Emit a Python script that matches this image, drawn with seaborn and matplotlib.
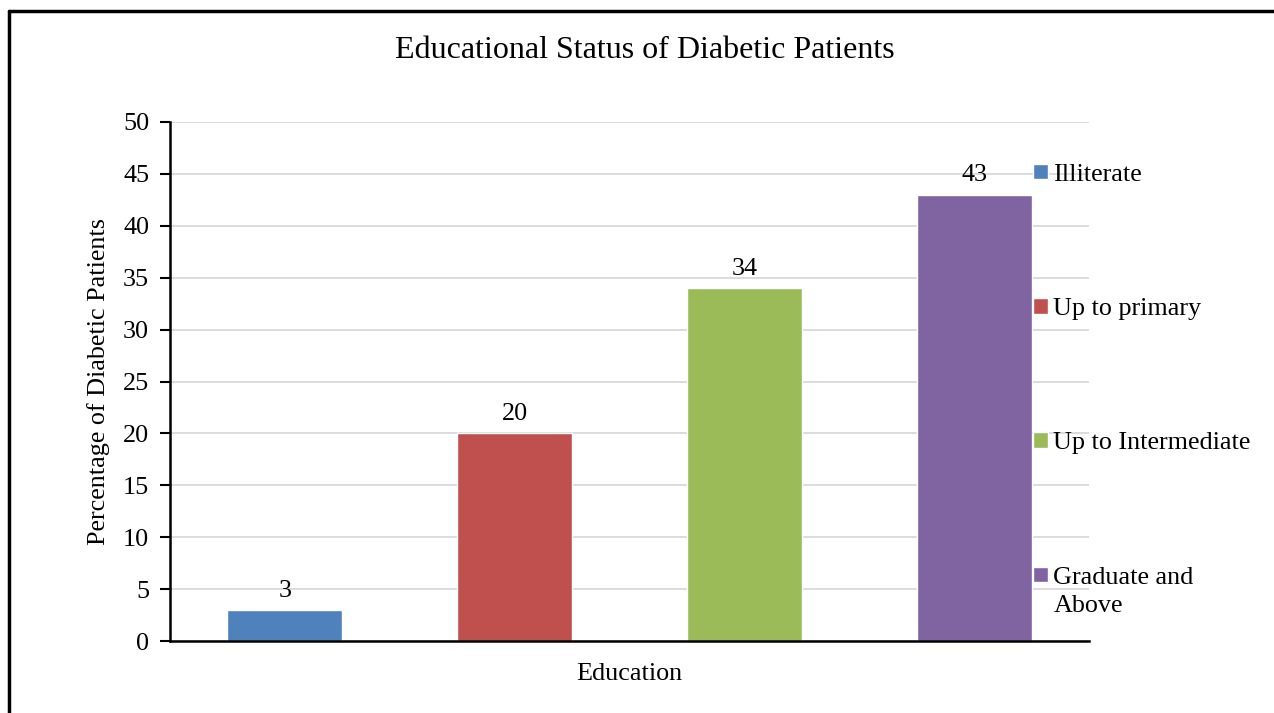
import matplotlib
matplotlib.use("Agg")
import matplotlib.pyplot as plt
from matplotlib.lines import Line2D
import seaborn as sns
import pandas as pd

# Education levels and share of diabetic patients (%)
categories = ["Illiterate", "Up to primary", "Up to Intermediate", "Graduate and\nAbove"]
percentages = [3, 20, 34, 43]
colors = ["#4F81BD", "#C0504D", "#9BBB59", "#8064A2"]
y_ticks = list(range(0, 51, 5))

sns.set_theme(style="white")
plt.rcParams["font.family"] = ["Liberation Serif", "DejaVu Serif"]
FS = 18.8

df = pd.DataFrame({"Education": categories, "Percent": percentages})

fig = plt.figure(figsize=(12.74, 7.13), dpi=100)
ax = fig.add_axes([170 / 1274, 72 / 713, 919 / 1274, 519 / 713])

sns.barplot(data=df, x="Education", y="Percent", hue="Education",
            palette=colors, width=0.5, saturation=1, legend=True, ax=ax)

ax.set_xlim(-0.5, 3.5)
ax.set_ylim(0, 50)
ax.set_yticks(y_ticks)
ax.set_yticklabels([str(t) for t in y_ticks], fontsize=FS, color="black")
ax.set_xticks([])
ax.tick_params(axis="y", which="both", left=True, length=7, width=1.5,
               color="black", pad=8)

ax.yaxis.grid(True, color="#D9D9D9", linewidth=1.3)
ax.set_axisbelow(True)
for side in ("top", "right"):
    ax.spines[side].set_visible(False)
for side in ("left", "bottom"):
    ax.spines[side].set_color("black")
    ax.spines[side].set_linewidth(1.8)

ax.set_xlabel("Education", fontsize=FS, color="black", labelpad=16)
ax.set_ylabel("Percentage of Diabetic Patients", fontsize=FS, color="black", labelpad=9)

for cont in ax.containers:
    ax.bar_label(cont, labels=[f"{v:g}" for v in cont.datavalues],
                 fontsize=FS, color="black", padding=6)

leg = ax.legend(loc="upper left", bbox_to_anchor=(0.928, 0.94), frameon=False,
                fontsize=FS, handlelength=0.55, handleheight=0.55,
                handletextpad=0.22, labelspacing=4.3, borderaxespad=0)
for t in leg.get_texts():
    t.set_color("black")
    t.set_linespacing(1.35)

# keep the swatch of the two-line entry level with its first line
for column in leg._legend_handle_box.get_children():
    for item in column.get_children():
        if "\n" in item.get_children()[1]._text.get_text():
            item.align = "top"

fig.text(645 / 1274, 1 - 50 / 713, "Educational Status of Diabetic Patients",
         ha="center", va="center", fontsize=23, color="black")

# frame along the left and top edges of the figure
fig.add_artist(Line2D([9 / 1274, 9 / 1274], [0, 1 - 11 / 713],
                      transform=fig.transFigure, color="black", linewidth=2.5))
fig.add_artist(Line2D([9 / 1274, 1], [1 - 11 / 713, 1 - 11 / 713],
                      transform=fig.transFigure, color="black", linewidth=2.5))

fig.savefig("out.png", dpi=100)
